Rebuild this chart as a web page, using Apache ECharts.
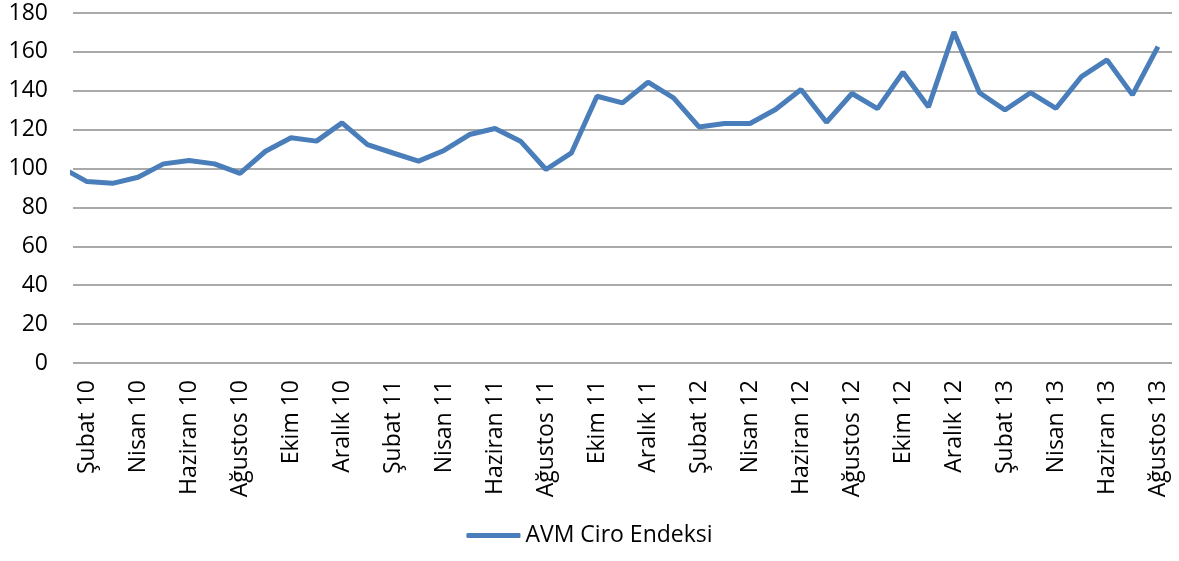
<!DOCTYPE html>
<html>
<head>
<meta charset="utf-8">
<script src="https://cdn.jsdelivr.net/npm/echarts@6/dist/echarts.min.js"></script>
<style>
  html, body { margin: 0; padding: 0; background: #fff; }
  #chart { width: 1179px; height: 561px; }
</style>
</head>
<body>
<div id="chart"></div>
<script>
var months = ['Ocak', 'Şubat', 'Mart', 'Nisan', 'Mayıs', 'Haziran', 'Temmuz', 'Ağustos', 'Eylül', 'Ekim', 'Kasım', 'Aralık'];
var years = ['10', '11', '12', '13'];

// AVM Ciro Endeksi, Ocak 10 - Ağustos 13
var values2010 = [100.5, 93.3, 92.4, 95.5, 102.4, 104.1, 102.4, 97.5, 108.9, 115.8, 114.1, 123.5];
var values2011 = [112.3, 108, 103.8, 109.3, 117.5, 120.6, 114.1, 99.5, 108.1, 137.2, 133.8, 144.4];
var values2012 = [136.4, 121.4, 123.2, 123.2, 130.4, 140.7, 123.8, 138.6, 130.8, 149.5, 131.7, 170.2];
var values2013 = [139, 130.1, 139, 131, 147.3, 155.9, 137.9, 162.7];

var seriesName = 'AVM Ciro Endeksi';
var yTicks = [0, 20, 40, 60, 80, 100, 120, 140, 160, 180];

var categories = [];
years.forEach(function (y) {
    months.forEach(function (m) { categories.push(m + ' ' + y); });
});
var values = values2010.concat(values2011, values2012, values2013);
categories = categories.slice(0, values.length);

// every other month is labelled, starting with Şubat 10
var labelIdx = [];
for (var i = 1; i < categories.length; i += 2) labelIdx.push(i);

var data = values.map(function (v, i) { return [i, v]; });

var font = '"Open Sans", "Noto Sans", sans-serif';

var option = {
    animation: false,
    grid: { left: 73, right: 7, top: 13, bottom: 198 },
    legend: {
        bottom: 9,
        left: 'center',
        icon: 'roundRect',
        itemWidth: 54,
        itemHeight: 5,
        itemGap: 10,
        textStyle: { fontFamily: font, fontSize: 23, color: '#000' },
        data: [seriesName]
    },
    xAxis: {
        type: 'value',
        min: 0.45,
        max: 43.55,
        splitLine: { show: false },
        axisLine: { show: false },
        axisTick: { show: false },
        axisLabel: {
            customValues: labelIdx,
            rotate: 90,
            margin: 17,
            fontFamily: font,
            fontSize: 23,
            color: '#000',
            formatter: function (v) { return categories[Math.round(v)]; }
        }
    },
    yAxis: {
        type: 'value',
        min: yTicks[0],
        max: yTicks[yTicks.length - 1],
        interval: 20,
        axisLine: { show: false },
        axisTick: { show: false },
        axisLabel: { margin: 25, fontFamily: font, fontSize: 23, color: '#000' },
        splitLine: { lineStyle: { color: '#8c8c8c', width: 1.5 } }
    },
    series: [{
        name: seriesName,
        type: 'line',
        data: data,
        showSymbol: false,
        clip: true,
        lineStyle: { color: '#4a7ebb', width: 5 },
        itemStyle: { color: '#4a7ebb' }
    }]
};
echarts.init(document.getElementById('chart')).setOption(option);
</script>
</body>
</html>
